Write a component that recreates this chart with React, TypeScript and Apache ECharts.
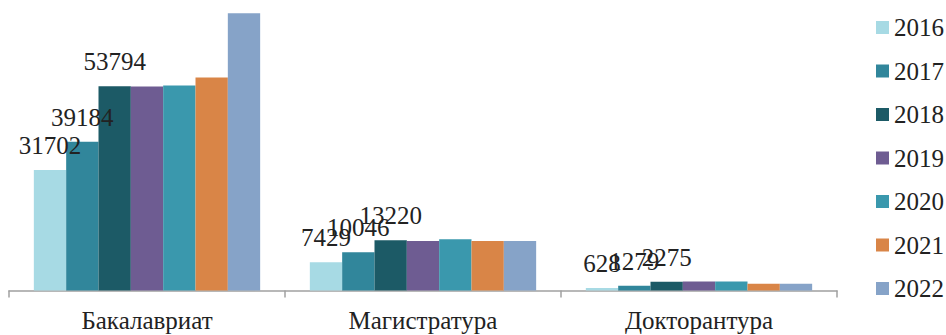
import React, { useEffect, useRef } from "react";
import * as echarts from "echarts";

const categories = ["Бакалавриат", "Магистратура", "Докторантура"];
const years = ["2016", "2017", "2018", "2019", "2020", "2021", "2022"];
const values2016 = [31702, 7429, 628];
const values2017 = [39184, 10046, 1279];
const values2018 = [53794, 13220, 2275];
const values2019 = [53700, 13050, 2400];
const values2020 = [54000, 13500, 2400];
const values2021 = [56100, 13050, 1800];
const values2022 = [73000, 13050, 1800];
const seriesValues = [values2016, values2017, values2018, values2019, values2020, values2021, values2022];
const labeledYears = ["2016", "2017", "2018"];
const colors = ["#A7DAE4", "#31869B", "#1C5A66", "#6E5C92", "#3A98AD", "#D98547", "#86A3C8"];

const FONT = "Times New Roman, Liberation Serif, serif";

export default function App() {
  const ref = useRef<HTMLDivElement>(null);
  useEffect(() => {
    if (!ref.current) return;
    const chart = echarts.init(ref.current, null, { renderer: "svg" });
    chart.setOption({
      animation: false,
      textStyle: { fontFamily: FONT },
      grid: { left: 9, right: 109, top: 0, bottom: 44.5, containLabel: false },
      legend: {
        orient: "vertical",
        left: 876,
        top: 15,
        padding: 0,
        itemWidth: 13,
        itemHeight: 13,
        itemGap: 18.5,
        icon: "rect",
        data: years,
        textStyle: { fontFamily: FONT, fontSize: 25, color: "#222", lineHeight: 24 },
      },
      xAxis: {
        type: "category",
        data: categories,
        axisLine: { lineStyle: { color: "#A0A0A0", width: 1.5 } },
        axisTick: { show: true, length: 7, lineStyle: { color: "#A0A0A0", width: 1.5 } },
        axisLabel: { fontFamily: FONT, fontSize: 25, color: "#222", margin: 17 },
      },
      yAxis: {
        type: "value",
        min: 0,
        max: 76500,
        show: false,
        splitLine: { show: false },
      },
      series: years.map((y, i) => ({
        name: y,
        type: "bar",
        data: seriesValues[i],
        barGap: "0%",
        barCategoryGap: "18%",
        itemStyle: { color: colors[i] },
        label: {
          show: labeledYears.includes(y),
          position: "top",
          distance: 12,
          fontFamily: FONT,
          fontSize: 25,
          color: "#222",
        },
      })),
    });
    return () => chart.dispose();
  }, []);
  return <div ref={ref} style={{ width: 946, height: 335, position: "absolute", left: 0, top: 0, background: "#fff" }} />;
}
